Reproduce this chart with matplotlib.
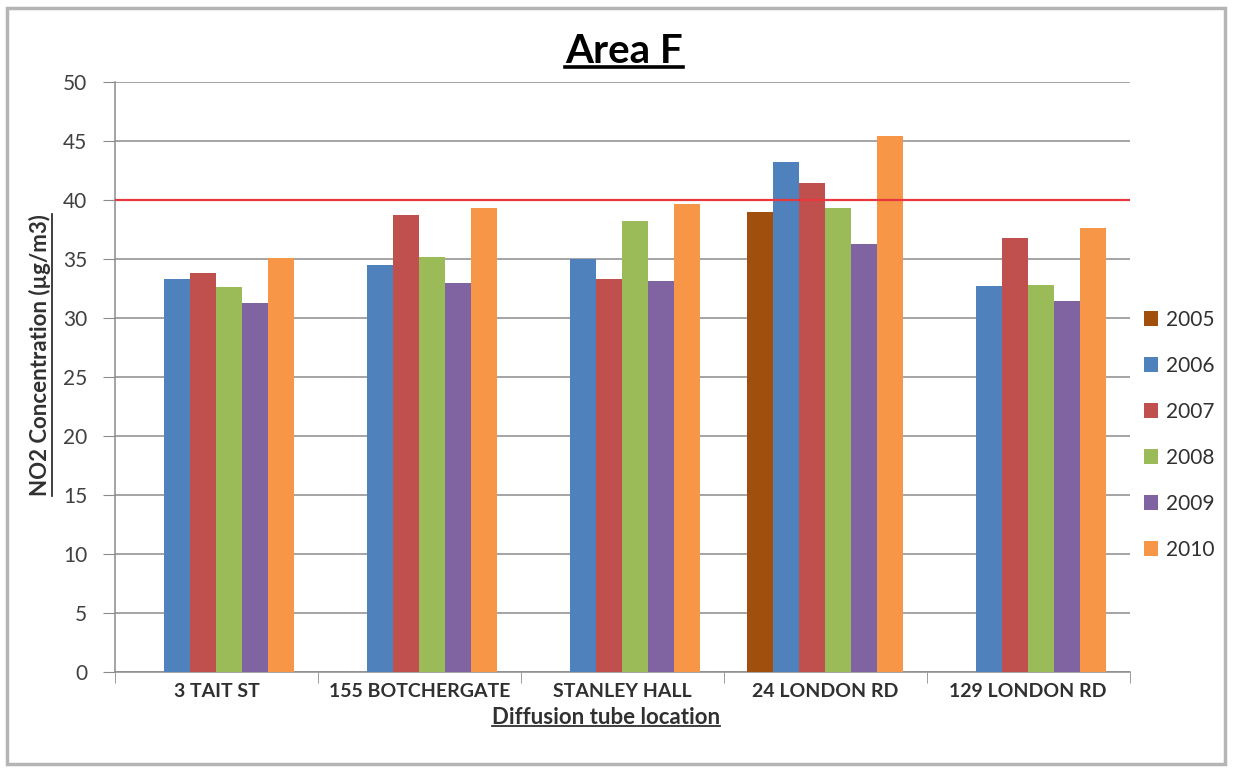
import numpy as np
import matplotlib
matplotlib.use('Agg')
import matplotlib.pyplot as plt
from matplotlib.patches import Rectangle
from matplotlib.lines import Line2D

plt.rcParams['font.family'] = ['Lato', 'DejaVu Sans']

locations = ['3 TAIT ST', '155 BOTCHERGATE', 'STANLEY HALL', '24 LONDON RD', '129 LONDON RD']
years = ['2005', '2006', '2007', '2008', '2009', '2010']
# NO2 annual means per site, nan where the tube was not in place
no2 = {
    '2005': [np.nan, np.nan, np.nan, 39.0, np.nan],
    '2006': [33.3, 34.5, 35.0, 43.2, 32.7],
    '2007': [33.8, 38.7, 33.3, 41.4, 36.8],
    '2008': [32.6, 35.2, 38.2, 39.3, 32.8],
    '2009': [31.3, 33.0, 33.1, 36.3, 31.4],
    '2010': [35.1, 39.3, 39.7, 45.4, 37.6],
}
limit_value = 40
colors = ['#A0500C', '#4F81BD', '#C0504D', '#9BBB59', '#8064A2', '#F79646']

fig = plt.figure(figsize=(12.36, 7.72), dpi=100)
ax = fig.add_axes([0.093, 0.1295, 0.821, 0.7643])

x = np.arange(len(locations))
w = 0.128
for i, yr in enumerate(years):
    ax.bar(x + (i - 2.5) * w, no2[yr], width=w, color=colors[i], label=yr, zorder=3)

ax.axhline(limit_value, color='#E8383D', lw=1.6, zorder=4)

ax.set_ylim(0, 50)
ax.set_xlim(-0.5, len(locations) - 0.5)
ax.set_yticks(np.arange(0, 51, 5))
ax.yaxis.grid(True, color='#8C8C8C', lw=1.1, zorder=0)
ax.tick_params(axis='y', length=9, color='#8C8C8C', labelsize=15, labelcolor='#404040', pad=11)
ax.set_xticks(x)
ax.set_xticklabels(locations, fontsize=14, fontweight='bold', color='#303030')
ax.tick_params(axis='x', which='major', length=0, pad=8)
ax.set_xticks(np.arange(-0.5, len(locations), 1), minor=True)
ax.tick_params(axis='x', which='minor', length=8, color='#8C8C8C')
for s in ['top', 'right']:
    ax.spines[s].set_visible(False)
for s in ['left', 'bottom']:
    ax.spines[s].set_color('#8C8C8C')
    ax.spines[s].set_linewidth(1.1)

title = fig.text(0.505, 0.918, 'Area F', fontsize=29, fontweight='bold', ha='center', va='baseline')
ylab = fig.text(0.032, 0.54, 'NO2 Concentration (\u00b5g/m3)', fontsize=16, fontweight='bold',
                rotation=90, ha='center', va='center', color='#303030')
xlab = fig.text(0.49, 0.062, 'Diffusion tube location', fontsize=16, fontweight='bold',
                ha='center', va='baseline', color='#303030')

handles, labels = ax.get_legend_handles_labels()
fig.legend(handles, labels, loc='center left', bbox_to_anchor=(0.91, 0.437), frameon=False,
           fontsize=15, labelspacing=1.25, handlelength=0.7, handleheight=0.7, handletextpad=0.4,
           labelcolor='#303030')

# underline the title and axis captions
fig.canvas.draw()
r = fig.canvas.get_renderer()
inv = fig.transFigure.inverted()
for t, vertical in [(title, False), (ylab, True), (xlab, False)]:
    bb = t.get_window_extent(r).transformed(inv)
    if vertical:
        xx = bb.x1 + 0.001
        fig.add_artist(Line2D([xx, xx], [bb.y0, bb.y1], color=t.get_color(), lw=1.3))
    else:
        yy = bb.y0 + (0.004 if t is title else 0.003)
        fig.add_artist(Line2D([bb.x0, bb.x1], [yy, yy], color=t.get_color(),
                              lw=2.6 if t is title else 1.3))

fig.patches.append(Rectangle((0.006, 0.01), 0.985, 0.98, transform=fig.transFigure,
                             fill=False, edgecolor='#B5B5B5', lw=2.5))

fig.savefig('out.png', dpi=100)
